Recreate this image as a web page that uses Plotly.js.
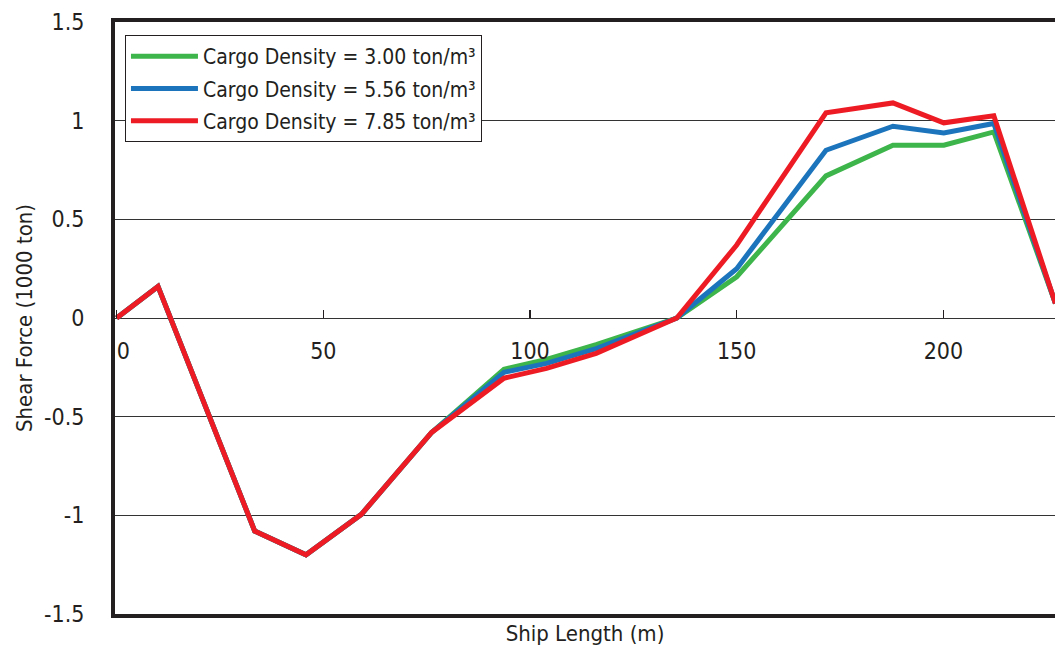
<!DOCTYPE html>
<html>
<head>
<meta charset="utf-8">
<script src="https://cdn.plot.ly/plotly-3.0.1.min.js"></script>
<style>html,body{margin:0;padding:0;background:#fff;}#chart{width:1055px;height:654px;}</style>
</head>
<body>
<div id="chart"></div>
<script>
const shipLength = [0, 10, 33.4, 45.8, 59.2, 76.2, 93.7, 104, 116, 128.3, 135.5, 150, 171.6, 187.8, 200.1, 212.2, 227.1];
const green = [0, 0.16, -1.08, -1.2, -0.995, -0.58, -0.26, -0.21, -0.135, -0.05, 0, 0.209, 0.72, 0.876, 0.876, 0.943, 0.074];
const blue  = [0, 0.16, -1.08, -1.2, -0.995, -0.58, -0.275, -0.23, -0.155, -0.058, 0, 0.25, 0.85, 0.972, 0.938, 0.986, 0.074];
const red   = [0, 0.16, -1.08, -1.2, -0.995, -0.58, -0.305, -0.255, -0.179, -0.069, 0, 0.37, 1.04, 1.09, 0.989, 1.025, 0.074];
const seriesNames = ["Cargo Density = 3.00 ton/m³", "Cargo Density = 5.56 ton/m³", "Cargo Density = 7.85 ton/m³"];
const xTickVals = [0, 50, 100, 150, 200];
const xTickText = ["\u20070", "50", "100", "150", "200"];
const yTickVals = [-1.5, -1, -0.5, 0, 0.5, 1, 1.5];
const yTickText = ["-1.5", "-1", "-0.5", "0", "0.5", "1", "1.5"];

const FONT = '"DejaVu Sans Condensed", "Open Sans", sans-serif';
const ink = '#231f20';

const traces = [
  {x: shipLength, y: green, name: seriesNames[0], legendgroup: 'g1', mode: 'lines', line: {color: '#3db54a', width: 5}},
  {x: shipLength, y: blue, name: seriesNames[1], legendgroup: 'g2', mode: 'lines', line: {color: '#1c75bc', width: 5}},
  {x: shipLength, y: red, name: seriesNames[2], legendgroup: 'g3', mode: 'lines', line: {color: '#ed1c24', width: 5}},
  {x: [0], y: [0], xaxis: 'x2', mode: 'markers', marker: {opacity: 0}, showlegend: false, hoverinfo: 'skip'}
];

const layout = {
  width: 1055, height: 654,
  margin: {l: 115, r: 0, t: 22, b: 40},
  paper_bgcolor: '#fff', plot_bgcolor: '#fff',
  font: {family: FONT, size: 22, color: ink},
  showlegend: true,
  legend: {x: 0.0106, y: 0.978, xanchor: 'left', yanchor: 'top', bgcolor: '#fff', bordercolor: ink, borderwidth: 1,
           font: {family: FONT, size: 21, color: ink}, tracegroupgap: 2, itemwidth: 67, traceorder: 'grouped'},
  xaxis: {
    range: [-0.4, 227], showgrid: false, zeroline: false, showticklabels: false, ticks: '',
    showline: true, mirror: true, linecolor: ink, linewidth: 4,
    title: {text: 'Ship Length (m)', font: {family: FONT, size: 22, color: ink}, standoff: 10}
  },
  xaxis2: {
    overlaying: 'x', matches: 'x', anchor: 'free', position: 0.5, side: 'bottom',
    tickmode: 'array', tickvals: xTickVals, ticktext: xTickText,
    ticks: 'inside', ticklen: 8, tickwidth: 1.5, tickcolor: ink,
    showgrid: false, zeroline: false, showline: false, ticklabelstandoff: 17,
    tickfont: {family: FONT, size: 23, color: ink}
  },
  yaxis: {
    range: [-1.5, 1.5], tickmode: 'array', tickvals: yTickVals, ticktext: yTickText,
    showgrid: true, gridcolor: '#333', gridwidth: 1, zeroline: false,
    showline: true, linecolor: ink, linewidth: 4, ticks: '', ticklabelstandoff: 22,
    tickfont: {family: FONT, size: 23, color: ink},
    title: {text: 'Shear Force (1000 ton)', font: {family: FONT, size: 22, color: ink}, standoff: 6}
  }
};

Plotly.newPlot('chart', traces, layout, {displayModeBar: false, staticPlot: true});
</script>
</body>
</html>
